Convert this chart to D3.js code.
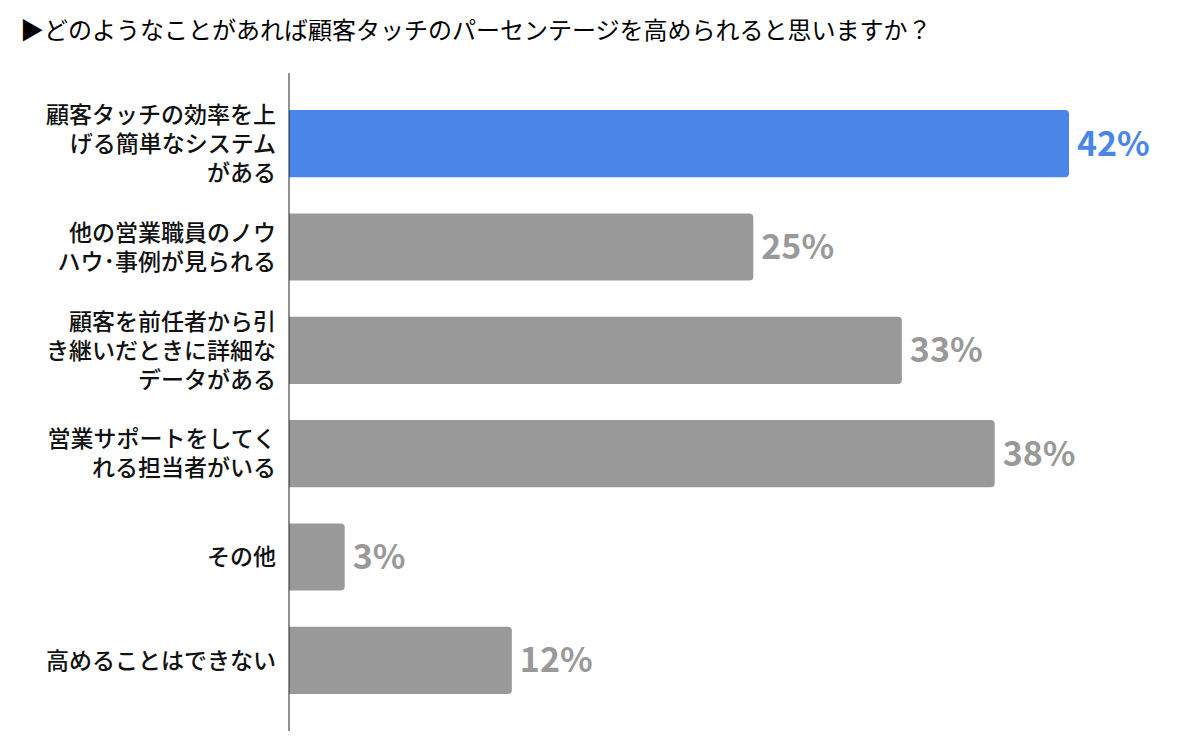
<!DOCTYPE html>
<html>
<head>
<meta charset="utf-8">
<script src="https://cdn.jsdelivr.net/npm/d3@7"></script>
<style>
  body { margin: 0; background: #fff; }
  text { font-family: "Noto Sans CJK JP", "Noto Sans", sans-serif; }
</style>
</head>
<body>
<div class="canvas"></div>
<script>
const title = '▶どのようなことがあれば顧客タッチのパーセンテージを高められると思いますか？';
const categories = [
    ['顧客タッチの効率を上', 'げる簡単なシステム', 'がある'],
    ['他の営業職員のノウ', 'ハウ･事例が見られる'],
    ['顧客を前任者から引', 'き継いだときに詳細な', 'データがある'],
    ['営業サポートをしてく', 'れる担当者がいる'],
    ['その他'],
    ['高めることはできない']
];
const values = [42, 25, 33, 38, 3, 12];
const highlight = 0;

const dims = {width: 1200, height: 742};
const axisX = 289;

const svg = d3.select('.canvas')
    .append('svg')
    .attr('width', dims.width)
    .attr('height', dims.height);

svg.append('text')
    .attr('x', 20)
    .attr('y', 39)
    .attr('font-size', 24)
    .attr('fill', '#000')
    .text(title);

const x = d3.scaleLinear()
    .domain([0, 42])
    .range([axisX, 1069]);

const y = d3.scaleBand()
    .domain(d3.range(values.length))
    .range([92, 712])
    .paddingInner(0.35)
    .paddingOuter(0.175);

const colour = i => i === highlight ? '#4a86e8' : '#999999';

// bars: square on the left, rounded on the right
const r = 4;
const barPath = (i) => {
    const x0 = x(0), x1 = x(values[i]), y0 = y(i), y1 = y(i) + y.bandwidth();
    return `M${x0},${y0}H${x1 - r}Q${x1},${y0} ${x1},${y0 + r}` +
        `V${y1 - r}Q${x1},${y1} ${x1 - r},${y1}H${x0}Z`;
};

svg.append('g').selectAll('path')
    .data(values)
    .join('path')
    .attr('d', (d, i) => barPath(i))
    .attr('fill', (d, i) => colour(i));

svg.append('g').selectAll('text')
    .data(values)
    .join('text')
    .attr('x', d => x(d) + 8)
    .attr('y', (d, i) => y(i) + y.bandwidth() / 2)
    .attr('dy', '0.35em')
    .attr('font-family', '"Noto Sans", sans-serif')
    .attr('font-weight', 'bold')
    .attr('font-size', 34)
    .attr('fill', (d, i) => colour(i))
    .text(d => d + '%');

// category labels
const lineH = 29;
const labels = svg.append('g').selectAll('text')
    .data(categories)
    .join('text')
    .attr('text-anchor', 'end')
    .attr('font-size', 23)
    .attr('font-weight', 500)
    .attr('fill', '#111');

labels.each((lines, i, a) => {
    const mid = y(i) + y.bandwidth() / 2;
    const start = mid - (lines.length - 1) * lineH / 2;
    d3.select(a[i]).selectAll('tspan')
        .data(lines)
        .join('tspan')
        .attr('x', 276)
        .attr('y', (l, j) => start + j * lineH)
        .attr('dy', '0.36em')
        .text(l => l);
});

svg.append('line')
    .attr('x1', axisX).attr('x2', axisX)
    .attr('y1', 73).attr('y2', 731)
    .attr('stroke', '#222')
    .attr('stroke-width', 1);
</script>
</body>
</html>
